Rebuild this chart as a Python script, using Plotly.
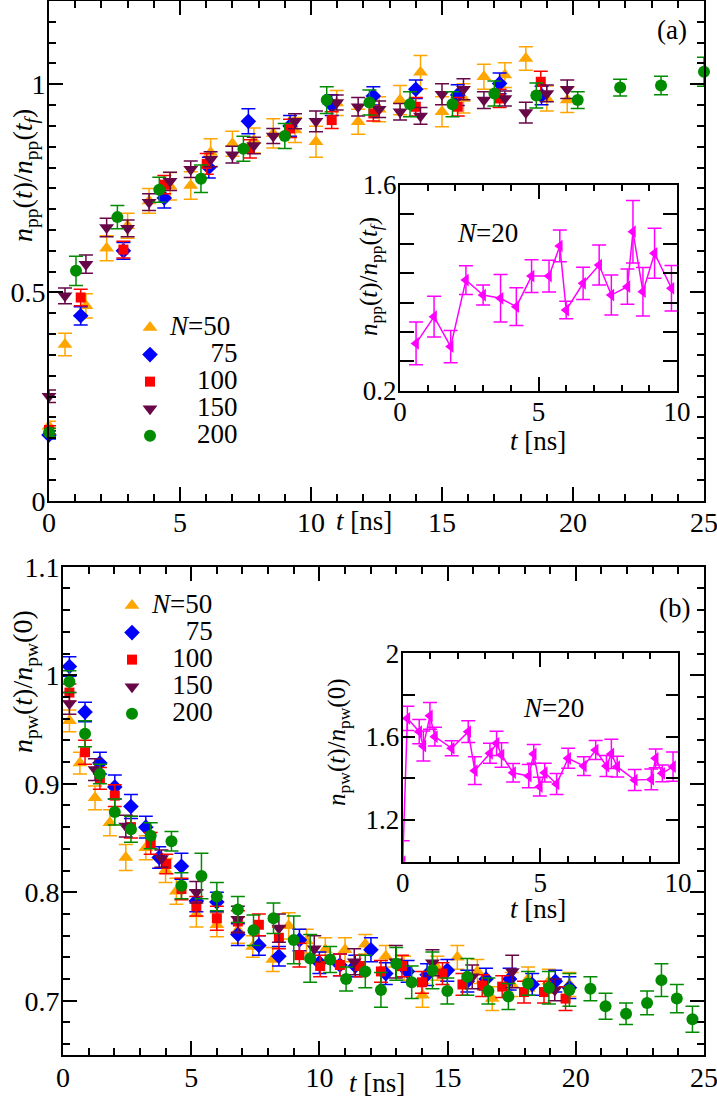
import plotly.graph_objects as go

W, H = 717, 1097

# ---------------- Panel (a) data ----------------
a_t50 = [0, 0.61, 1.41, 2.2, 3.0, 3.82, 4.62, 5.41, 6.17, 7.0, 7.82, 8.56, 9.39, 10.19, 10.98, 11.8, 12.6, 13.4, 14.18, 15.0, 15.82, 16.6, 17.4, 18.2, 19.0, 19.78]
a_v50 = [0.179, 0.375, 0.468, 0.606, 0.66, 0.72, 0.755, 0.757, 0.836, 0.857, 0.865, 0.882, 0.89, 0.862, 0.955, 0.91, 0.94, 0.962, 1.029, 0.934, 0.966, 1.018, 1.022, 1.062, 0.966, 0.962]
a_e50 = [0.012, 0.027, 0.029, 0.03, 0.03, 0.03, 0.033, 0.033, 0.033, 0.03, 0.03, 0.035, 0.03, 0.037, 0.03, 0.03, 0.03, 0.035, 0.04, 0.036, 0.035, 0.03, 0.03, 0.028, 0.03, 0.03]

a_t75 = [0, 1.21, 2.84, 4.4, 6.1, 7.61, 9.2, 10.79, 12.38, 14.0, 15.6, 17.2, 18.8]
a_v75 = [0.158, 0.444, 0.60, 0.727, 0.80, 0.911, 0.90, 0.95, 0.972, 0.988, 0.974, 1.002, 0.973]
a_e75 = [0.01, 0.022, 0.02, 0.024, 0.025, 0.03, 0.025, 0.025, 0.022, 0.022, 0.025, 0.025, 0.022]

a_t100 = [0, 1.21, 2.84, 4.4, 6.02, 7.67, 9.2, 10.79, 12.38, 14.0, 15.6, 17.2, 18.77]
a_v100 = [0.17, 0.488, 0.603, 0.759, 0.809, 0.845, 0.894, 0.914, 0.93, 0.946, 0.946, 0.966, 1.006]
a_e100 = [0.01, 0.02, 0.02, 0.022, 0.025, 0.022, 0.022, 0.02, 0.018, 0.022, 0.022, 0.022, 0.025]

a_t150 = [0, 0.61, 1.41, 2.2, 3.0, 3.82, 4.62, 5.41, 6.17, 7.0, 7.82, 8.56, 9.39, 10.19, 10.98, 11.8, 12.6, 13.4, 14.18, 15.0, 15.82, 16.6, 17.4, 18.2, 19.0, 19.78]
a_v150 = [0.251, 0.492, 0.568, 0.656, 0.654, 0.717, 0.767, 0.796, 0.82, 0.831, 0.853, 0.876, 0.911, 0.911, 0.956, 0.946, 0.94, 0.934, 0.924, 0.976, 0.988, 0.962, 0.966, 0.932, 0.978, 0.988]
a_e150 = [0.015, 0.019, 0.022, 0.022, 0.02, 0.02, 0.022, 0.02, 0.018, 0.02, 0.02, 0.018, 0.018, 0.025, 0.018, 0.022, 0.02, 0.02, 0.02, 0.025, 0.025, 0.02, 0.018, 0.025, 0.02, 0.022]

a_t200 = [0, 1.03, 2.61, 4.21, 5.8, 7.42, 9.0, 10.6, 12.23, 13.78, 15.4, 17.0, 18.6, 20.18, 21.8, 23.36, 25.0]
a_v200 = [0.164, 0.552, 0.681, 0.747, 0.773, 0.845, 0.876, 0.962, 0.956, 0.952, 0.952, 0.978, 0.973, 0.962, 0.992, 0.997, 1.03]
a_e200 = [0.01, 0.035, 0.028, 0.03, 0.033, 0.03, 0.03, 0.032, 0.03, 0.03, 0.03, 0.03, 0.03, 0.02, 0.02, 0.022, 0.035]

# inset (a), N=20
ai_t = [0.58, 1.23, 1.83, 2.38, 3.0, 3.63, 4.2, 4.75, 5.38, 5.77, 6.0, 6.61, 7.19, 7.63, 8.21, 8.41, 8.77, 9.19, 9.8]
ai_v = [0.522, 0.704, 0.50, 0.953, 0.851, 0.829, 0.772, 0.98, 0.98, 1.185, 0.749, 0.931, 1.055, 0.851, 0.908, 1.282, 0.874, 1.135, 0.897]
ai_e = [0.145, 0.138, 0.11, 0.098, 0.068, 0.162, 0.128, 0.111, 0.108, 0.108, 0.06, 0.11, 0.136, 0.136, 0.12, 0.213, 0.165, 0.17, 0.155]

# ---------------- Panel (b) data ----------------
b_t50 = [0.25, 0.66, 1.25, 1.83, 2.45, 3.23, 4.0, 4.42, 5.2, 6.0, 6.82, 7.4, 8.18, 8.8, 9.5, 10.23, 11.0, 11.79, 12.59, 13.3, 14.02, 14.6, 15.38, 16.16, 16.74, 17.5, 18.14, 18.95, 19.75]
b_v50 = [0.958, 0.919, 0.887, 0.864, 0.832, 0.841, 0.82, 0.801, 0.78, 0.77, 0.765, 0.75, 0.738, 0.769, 0.755, 0.747, 0.747, 0.752, 0.741, 0.73, 0.705, 0.73, 0.740, 0.727, 0.702, 0.715, 0.72, 0.718, 0.715]
b_e50 = [0.01, 0.01, 0.011, 0.012, 0.012, 0.011, 0.011, 0.012, 0.012, 0.011, 0.012, 0.01, 0.011, 0.012, 0.011, 0.011, 0.011, 0.009, 0.01, 0.011, 0.011, 0.011, 0.011, 0.011, 0.011, 0.011, 0.011, 0.011, 0.011]

b_t75 = [0.25, 0.86, 1.44, 2.02, 2.65, 3.23, 3.75, 4.62, 5.2, 6.0, 6.82, 7.64, 8.42, 9.22, 10.0, 10.8, 11.4, 12.01, 12.59, 13.44, 14.2, 14.99, 15.77, 16.5, 17.42, 18.3, 19.2, 19.75]
b_v75 = [1.008, 0.966, 0.919, 0.897, 0.879, 0.860, 0.832, 0.824, 0.792, 0.791, 0.761, 0.751, 0.741, 0.756, 0.735, 0.733, 0.732, 0.747, 0.725, 0.727, 0.724, 0.728, 0.718, 0.72, 0.72, 0.715, 0.718, 0.712]
b_e75 = [0.009, 0.009, 0.01, 0.011, 0.011, 0.01, 0.01, 0.012, 0.01, 0.009, 0.01, 0.009, 0.009, 0.01, 0.01, 0.01, 0.01, 0.011, 0.01, 0.01, 0.01, 0.01, 0.01, 0.01, 0.01, 0.01, 0.01, 0.01]

b_t100 = [0.25, 0.86, 1.44, 2.02, 2.65, 3.42, 4.03, 4.62, 5.2, 6.0, 6.82, 7.64, 8.42, 9.22, 10.03, 10.8, 11.58, 12.4, 13.22, 14.0, 14.8, 15.58, 16.35, 17.13, 17.98, 18.76, 19.6]
b_v100 = [0.984, 0.929, 0.905, 0.889, 0.86, 0.845, 0.826, 0.803, 0.787, 0.776, 0.773, 0.770, 0.758, 0.742, 0.732, 0.733, 0.732, 0.727, 0.732, 0.717, 0.725, 0.715, 0.714, 0.713, 0.708, 0.708, 0.702]
b_e100 = [0.008, 0.011, 0.01, 0.01, 0.01, 0.01, 0.009, 0.01, 0.009, 0.011, 0.01, 0.01, 0.01, 0.011, 0.01, 0.01, 0.01, 0.01, 0.01, 0.01, 0.01, 0.01, 0.01, 0.01, 0.01, 0.01, 0.011]

b_t150 = [0.25, 1.25, 2.45, 3.84, 5.2, 6.82, 8.42, 9.8, 11.36, 12.98, 14.41, 15.96, 17.52, 19.18]
b_v150 = [0.974, 0.913, 0.861, 0.831, 0.80, 0.775, 0.767, 0.748, 0.736, 0.736, 0.735, 0.722, 0.727, 0.71]
b_e150 = [0.01, 0.01, 0.01, 0.008, 0.01, 0.012, 0.013, 0.012, 0.012, 0.015, 0.012, 0.011, 0.015, 0.01]

b_t200 = [0.25, 0.86, 1.44, 2.02, 2.65, 3.42, 4.23, 4.62, 5.4, 6.0, 6.82, 7.43, 8.21, 9.0, 9.64, 10.42, 11.04, 11.79, 12.4, 13.0, 13.6, 14.41, 14.99, 15.77, 16.59, 17.37, 18.14, 18.95, 19.75, 20.57, 21.16, 21.96, 22.78, 23.34, 23.94, 24.55]
b_v200 = [0.994, 0.946, 0.909, 0.874, 0.858, 0.852, 0.847, 0.806, 0.815, 0.796, 0.784, 0.765, 0.776, 0.756, 0.739, 0.738, 0.72, 0.727, 0.71, 0.734, 0.717, 0.728, 0.709, 0.722, 0.709, 0.704, 0.716, 0.712, 0.71, 0.711, 0.695, 0.688, 0.698, 0.719, 0.702, 0.683]
b_e200 = [0.01, 0.012, 0.009, 0.012, 0.012, 0.012, 0.009, 0.012, 0.021, 0.013, 0.012, 0.014, 0.014, 0.022, 0.022, 0.012, 0.011, 0.015, 0.016, 0.015, 0.015, 0.017, 0.012, 0.017, 0.012, 0.012, 0.011, 0.015, 0.015, 0.011, 0.012, 0.01, 0.011, 0.015, 0.013, 0.012]

# inset (b), N=20
bi_t = [0.0, 0.17, 0.6, 0.75, 0.99, 1.17, 1.78, 2.38, 2.62, 3.17, 3.41, 3.59, 4.01, 4.58, 4.76, 4.98, 5.16, 5.59, 6.01, 6.58, 7.01, 7.4, 7.58, 7.79, 8.43, 9.03, 9.19, 9.43, 9.82]
bi_v = [1.0, 1.688, 1.624, 1.555, 1.70, 1.60, 1.544, 1.624, 1.437, 1.52, 1.568, 1.512, 1.427, 1.411, 1.517, 1.36, 1.427, 1.373, 1.496, 1.459, 1.536, 1.459, 1.517, 1.456, 1.392, 1.395, 1.496, 1.424, 1.456]
bi_e = [0.1, 0.058, 0.058, 0.072, 0.064, 0.045, 0.036, 0.052, 0.066, 0.048, 0.058, 0.059, 0.044, 0.056, 0.045, 0.045, 0.045, 0.05, 0.048, 0.045, 0.045, 0.05, 0.07, 0.05, 0.05, 0.05, 0.045, 0.04, 0.07]

NB = "\u00a0"
LEGFS = 27
labels_a = ["<i>N</i>=50", NB * 6 + "75", NB * 4 + "100", NB * 4 + "150", NB * 4 + "200"]
labels_b = ["<i>N</i>=50", NB * 5 + "75", NB * 3 + "100", NB * 3 + "150", NB * 3 + "200"]
colors = ["#ffa500", "#0000ff", "#ff0000", "#670748", "#008b00"]
symbols = ["triangle-up", "diamond", "square", "triangle-down", "circle"]
msizes = [13, 12, 10, 13, 12]

FONT = "Liberation Serif, Times New Roman, serif"

fig = go.Figure()

a_sets = [(a_t50, a_v50, a_e50), (a_t75, a_v75, a_e75), (a_t100, a_v100, a_e100),
          (a_t150, a_v150, a_e150), (a_t200, a_v200, a_e200)]
b_sets = [(b_t50, b_v50, b_e50), (b_t75, b_v75, b_e75), (b_t100, b_v100, b_e100),
          (b_t150, b_v150, b_e150), (b_t200, b_v200, b_e200)]


def big(s):
    return '<span style="font-size:%dpx">%s</span>' % (LEGFS, s)


for i, (t, v, e) in enumerate(a_sets):
    fig.add_trace(go.Scatter(
        x=t, y=v, mode="markers", name=big(labels_a[i]), xaxis="x", yaxis="y",
        legend="legend", cliponaxis=False,
        marker=dict(symbol=symbols[i], size=msizes[i], color=colors[i]),
        error_y=dict(type="data", array=e, color=colors[i], thickness=1.5, width=7),
    ))

for i, (t, v, e) in enumerate(b_sets):
    fig.add_trace(go.Scatter(
        x=t, y=v, mode="markers", name=big(labels_b[i]), xaxis="x2", yaxis="y2",
        legend="legend2", cliponaxis=False,
        marker=dict(symbol=symbols[i], size=msizes[i], color=colors[i]),
        error_y=dict(type="data", array=e, color=colors[i], thickness=1.5, width=7),
    ))

fig.add_trace(go.Scatter(
    x=ai_t, y=ai_v, mode="lines+markers", xaxis="x3", yaxis="y3", showlegend=False,
    line=dict(color="#ff00ff", width=1.5),
    marker=dict(symbol="triangle-left", size=11, color="#ff00ff"),
    error_y=dict(type="data", array=ai_e, color="#ff00ff", thickness=1.5, width=7),
))
fig.add_trace(go.Scatter(
    x=bi_t, y=bi_v, mode="lines+markers", xaxis="x4", yaxis="y4", showlegend=False,
    line=dict(color="#ff00ff", width=1.5),
    marker=dict(symbol="triangle-left", size=11, color="#ff00ff"),
    error_y=dict(type="data", array=bi_e, color="#ff00ff", thickness=1.5, width=7),
))


def px_x(p):
    return p / W


def px_y(p):
    return 1 - p / H


def axis_common(fs, major_len):
    return dict(
        showline=True, linecolor="black", linewidth=2, mirror="ticks",
        ticks="inside", ticklen=major_len, tickwidth=2, tickcolor="black",
        showgrid=False, zeroline=False,
        tickfont=dict(family=FONT, size=fs, color="black"),
        automargin=False, fixedrange=True, ticklabeloverflow="allow",
        ticklabelstandoff=-4,
    )


def minor(d, ln, t0=0):
    return dict(dtick=d, tick0=t0, ticks="inside", ticklen=ln, tickwidth=2,
                tickcolor="black", showgrid=False)


xa = axis_common(28, 14)
xa.update(domain=[px_x(49), px_x(704)], range=[0, 25], anchor="y",
          tickvals=[0, 5, 10, 15, 20, 25], minor=minor(1, 7))
ya = axis_common(28, 14)
ya.update(domain=[px_y(500.7), px_y(1)], range=[0, 1.2], anchor="x",
          tickvals=[0, 0.5, 1], ticktext=["0", "0.5", "1"], minor=minor(0.05, 7))

xb = axis_common(28, 14)
xb.update(domain=[px_x(63), px_x(704)], range=[0, 25], anchor="y2",
          tickvals=[0, 5, 10, 15, 20, 25], minor=minor(1, 7))
yb = axis_common(28, 14)
yb.update(domain=[px_y(1055), px_y(566.7)], range=[0.65, 1.1], anchor="x2",
          tickvals=[0.7, 0.8, 0.9, 1.0, 1.1], ticktext=["0.7", "0.8", "0.9", "1", "1.1"],
          minor=minor(0.02, 7))

xai = axis_common(27, 14)
xai.update(domain=[px_x(400), px_x(677)], range=[0, 10], anchor="y3",
           tickvals=[0, 5, 10], minor=minor(1, 6))
yai = axis_common(27, 14)
yai.update(domain=[px_y(390.7), px_y(185)], range=[0.2, 1.6], anchor="x3",
           tickvals=[0.2, 1.6], ticktext=["0.2", "1.6"], minor=minor(0.2, 14, 0.2))

xbi = axis_common(27, 14)
xbi.update(domain=[px_x(402.7), px_x(678)], range=[0, 10], anchor="y4",
           tickvals=[0, 5, 10], minor=minor(1, 6))
ybi = axis_common(27, 12)
ybi.update(domain=[px_y(861.7), px_y(653.3)], range=[1.0, 2.0], anchor="x4",
           tickvals=[1.2, 1.6, 2.0], ticktext=["1.2", "1.6", "2"], minor=minor(0.2, 12, 1.0))

anns = []


def ann(text, x, y, size, angle=0):
    anns.append(dict(text=text, x=px_x(x), y=px_y(y), xref="paper", yref="paper",
                     showarrow=False, textangle=angle, xanchor="center", yanchor="middle",
                     font=dict(family=FONT, size=size, color="black")))


ytit_a = "<i>n</i><sub>pp</sub>(<i>t</i>)/<i>n</i><sub>pp</sub>(<i>t</i><sub><i>f</i></sub>)"
ytit_b = "<i>n</i><sub>pw</sub>(<i>t</i>)/<i>n</i><sub>pw</sub>(0)"
ann(ytit_a, 24, 176, 28, -90)
ann(ytit_b, 24, 682, 28, -90)
ann(ytit_a, 371, 277, 25, -90)
ann(ytit_b, 338, 742, 25, -90)
ann("<i>t</i> [ns]", 364, 521, 27)
ann("<i>t</i> [ns]", 377, 1083, 27)
ann("<i>t</i> [ns]", 538, 441, 27)
ann("<i>t</i> [ns]", 538, 909, 27)
ann("(a)", 672, 30, 27)
ann("(b)", 674, 608, 27)
ann("<i>N</i>=20", 487, 233, 27)
ann("<i>N</i>=20", 553, 708, 27)

fig.update_layout(
    width=W, height=H,
    margin=dict(l=0, r=0, t=0, b=0),
    paper_bgcolor="white", plot_bgcolor="white",
    xaxis=xa, yaxis=ya, xaxis2=xb, yaxis2=yb,
    xaxis3=xai, yaxis3=yai, xaxis4=xbi, yaxis4=ybi,
    annotations=anns,
    legend=dict(x=px_x(130), y=px_y(309), xanchor="left", yanchor="top",
                bgcolor="rgba(0,0,0,0)", font=dict(family=FONT, size=18.5, color="black"),
                itemclick=False, itemdoubleclick=False),
    legend2=dict(x=px_x(112), y=px_y(587), xanchor="left", yanchor="top",
                 bgcolor="rgba(0,0,0,0)", font=dict(family=FONT, size=18.5, color="black"),
                 itemclick=False, itemdoubleclick=False),
)

fig.write_html("out.html", config={"displayModeBar": False},
               post_script="document.body.style.margin='0px';")
